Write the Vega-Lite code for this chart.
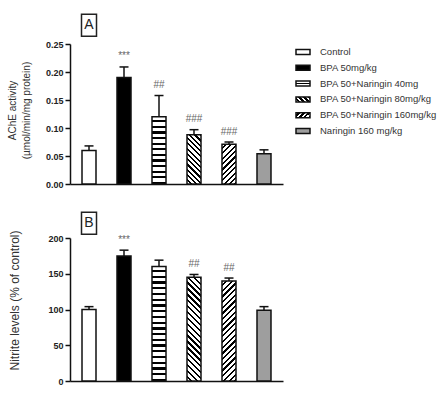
{
  "$schema": "https://vega.github.io/schema/vega-lite/v6.json",
  "padding": {"left": 7, "top": 11, "right": 2, "bottom": 4},
  "background": "white",
  "config": {
    "font": "Liberation Sans",
    "view": {"stroke": null},
    "axis": {
      "domainColor": "#111", "domainWidth": 1.5,
      "tickColor": "#111", "tickWidth": 1.5, "tickSize": 5,
      "grid": false, "labelOverlap": false,
      "labelFont": "Liberation Sans", "labelFontSize": 9, "labelFontWeight": "bold", "labelColor": "#222", "labelPadding": 2,
      "titleFont": "Liberation Sans", "titleFontWeight": "normal", "titleColor": "#333"
    },
    "axisY": {"tickCount": 6}
  },
  "datasets": {
    "ache": [
      {"group": "Control", "mean": 0.060, "upper": 0.068, "sig": ""},
      {"group": "BPA 50mg/kg", "mean": 0.190, "upper": 0.209, "sig": "***"},
      {"group": "BPA 50+Naringin 40mg", "mean": 0.120, "upper": 0.158, "sig": "##"},
      {"group": "BPA 50+Naringin 80mg/kg", "mean": 0.088, "upper": 0.097, "sig": "###"},
      {"group": "BPA 50+Naringin 160mg/kg", "mean": 0.071, "upper": 0.075, "sig": "###"},
      {"group": "Naringin 160 mg/kg", "mean": 0.054, "upper": 0.061, "sig": ""}
    ],
    "nitrite": [
      {"group": "Control", "mean": 100, "upper": 104, "sig": ""},
      {"group": "BPA 50mg/kg", "mean": 175, "upper": 183, "sig": "***"},
      {"group": "BPA 50+Naringin 40mg", "mean": 160, "upper": 169, "sig": ""},
      {"group": "BPA 50+Naringin 80mg/kg", "mean": 145, "upper": 149, "sig": "##"},
      {"group": "BPA 50+Naringin 160mg/kg", "mean": 140, "upper": 144, "sig": "##"},
      {"group": "Naringin 160 mg/kg", "mean": 99, "upper": 104, "sig": ""}
    ]
  },
  "columns": 2,
  "align": "each",
  "bounds": "flush",
  "spacing": {"row": 54, "column": 13},
  "concat": [
    {
      "width": 213,
      "height": 140,
      "data": {"name": "ache"},
      "layer": [
        {
          "mark": {"type": "bar", "stroke": "#111", "strokeWidth": 1.5},
          "encoding": {
            "x": {"field": "group", "type": "nominal", "sort": null,
                  "scale": {"domain": ["Control", "BPA 50mg/kg", "BPA 50+Naringin 40mg", "BPA 50+Naringin 80mg/kg", "BPA 50+Naringin 160mg/kg", "Naringin 160 mg/kg"], "paddingInner": 0.6, "paddingOuter": 0.343},
                  "axis": {"title": null, "labels": false, "ticks": false}},
            "y": {"field": "mean", "type": "quantitative", "scale": {"domain": [0, 0.25], "nice": false},
                  "axis": {"title": ["AChE activity", "(µmol/min/mg protein)"], "values": [0, 0.05, 0.1, 0.15, 0.2, 0.25], "format": ".2f", "titleFontSize": 10, "titleLineHeight": 14, "titlePadding": 14, "titleY": 66}},
            "fill": {
              "condition": [
                {"test": "datum.group == 'BPA 50mg/kg'", "value": "#000"},
                {"test": "datum.group == 'BPA 50+Naringin 40mg'", "value": {"gradient": "linear", "x1": 0, "y1": 0, "x2": 0, "y2": 1, "stops": [
                  {"offset": 0, "color": "#fff"}, {"offset": 0.05, "color": "#fff"}, {"offset": 0.05, "color": "#000"}, {"offset": 0.0833, "color": "#000"},
                  {"offset": 0.0833, "color": "#fff"}, {"offset": 0.1333, "color": "#fff"}, {"offset": 0.1333, "color": "#000"}, {"offset": 0.1667, "color": "#000"},
                  {"offset": 0.1667, "color": "#fff"}, {"offset": 0.2167, "color": "#fff"}, {"offset": 0.2167, "color": "#000"}, {"offset": 0.25, "color": "#000"},
                  {"offset": 0.25, "color": "#fff"}, {"offset": 0.3, "color": "#fff"}, {"offset": 0.3, "color": "#000"}, {"offset": 0.3333, "color": "#000"},
                  {"offset": 0.3333, "color": "#fff"}, {"offset": 0.3833, "color": "#fff"}, {"offset": 0.3833, "color": "#000"}, {"offset": 0.4167, "color": "#000"},
                  {"offset": 0.4167, "color": "#fff"}, {"offset": 0.4667, "color": "#fff"}, {"offset": 0.4667, "color": "#000"}, {"offset": 0.5, "color": "#000"},
                  {"offset": 0.5, "color": "#fff"}, {"offset": 0.55, "color": "#fff"}, {"offset": 0.55, "color": "#000"}, {"offset": 0.5833, "color": "#000"},
                  {"offset": 0.5833, "color": "#fff"}, {"offset": 0.6333, "color": "#fff"}, {"offset": 0.6333, "color": "#000"}, {"offset": 0.6667, "color": "#000"},
                  {"offset": 0.6667, "color": "#fff"}, {"offset": 0.7167, "color": "#fff"}, {"offset": 0.7167, "color": "#000"}, {"offset": 0.75, "color": "#000"},
                  {"offset": 0.75, "color": "#fff"}, {"offset": 0.8, "color": "#fff"}, {"offset": 0.8, "color": "#000"}, {"offset": 0.8333, "color": "#000"},
                  {"offset": 0.8333, "color": "#fff"}, {"offset": 0.8833, "color": "#fff"}, {"offset": 0.8833, "color": "#000"}, {"offset": 0.9167, "color": "#000"},
                  {"offset": 0.9167, "color": "#fff"}, {"offset": 0.9667, "color": "#fff"}, {"offset": 0.9667, "color": "#000"}, {"offset": 1, "color": "#000"}]}},
                {"test": "datum.group == 'BPA 50+Naringin 80mg/kg'", "value": {"gradient": "linear", "x1": 0, "y1": 1, "x2": 0.3376, "y2": -0.1882, "stops": [
                  {"offset": 0, "color": "#fff"}, {"offset": 0.05, "color": "#fff"}, {"offset": 0.05, "color": "#000"}, {"offset": 0.0833, "color": "#000"},
                  {"offset": 0.0833, "color": "#fff"}, {"offset": 0.1333, "color": "#fff"}, {"offset": 0.1333, "color": "#000"}, {"offset": 0.1667, "color": "#000"},
                  {"offset": 0.1667, "color": "#fff"}, {"offset": 0.2167, "color": "#fff"}, {"offset": 0.2167, "color": "#000"}, {"offset": 0.25, "color": "#000"},
                  {"offset": 0.25, "color": "#fff"}, {"offset": 0.3, "color": "#fff"}, {"offset": 0.3, "color": "#000"}, {"offset": 0.3333, "color": "#000"},
                  {"offset": 0.3333, "color": "#fff"}, {"offset": 0.3833, "color": "#fff"}, {"offset": 0.3833, "color": "#000"}, {"offset": 0.4167, "color": "#000"},
                  {"offset": 0.4167, "color": "#fff"}, {"offset": 0.4667, "color": "#fff"}, {"offset": 0.4667, "color": "#000"}, {"offset": 0.5, "color": "#000"},
                  {"offset": 0.5, "color": "#fff"}, {"offset": 0.55, "color": "#fff"}, {"offset": 0.55, "color": "#000"}, {"offset": 0.5833, "color": "#000"},
                  {"offset": 0.5833, "color": "#fff"}, {"offset": 0.6333, "color": "#fff"}, {"offset": 0.6333, "color": "#000"}, {"offset": 0.6667, "color": "#000"},
                  {"offset": 0.6667, "color": "#fff"}, {"offset": 0.7167, "color": "#fff"}, {"offset": 0.7167, "color": "#000"}, {"offset": 0.75, "color": "#000"},
                  {"offset": 0.75, "color": "#fff"}, {"offset": 0.8, "color": "#fff"}, {"offset": 0.8, "color": "#000"}, {"offset": 0.8333, "color": "#000"},
                  {"offset": 0.8333, "color": "#fff"}, {"offset": 0.8833, "color": "#fff"}, {"offset": 0.8833, "color": "#000"}, {"offset": 0.9167, "color": "#000"},
                  {"offset": 0.9167, "color": "#fff"}, {"offset": 0.9667, "color": "#fff"}, {"offset": 0.9667, "color": "#000"}, {"offset": 1, "color": "#000"}]}},
                {"test": "datum.group == 'BPA 50+Naringin 160mg/kg'", "value": {"gradient": "linear", "x1": 0, "y1": 0, "x2": 0.4236, "y2": 1.203, "stops": [
                  {"offset": 0, "color": "#fff"}, {"offset": 0.06, "color": "#fff"}, {"offset": 0.06, "color": "#000"}, {"offset": 0.1, "color": "#000"},
                  {"offset": 0.1, "color": "#fff"}, {"offset": 0.16, "color": "#fff"}, {"offset": 0.16, "color": "#000"}, {"offset": 0.2, "color": "#000"},
                  {"offset": 0.2, "color": "#fff"}, {"offset": 0.26, "color": "#fff"}, {"offset": 0.26, "color": "#000"}, {"offset": 0.3, "color": "#000"},
                  {"offset": 0.3, "color": "#fff"}, {"offset": 0.36, "color": "#fff"}, {"offset": 0.36, "color": "#000"}, {"offset": 0.4, "color": "#000"},
                  {"offset": 0.4, "color": "#fff"}, {"offset": 0.46, "color": "#fff"}, {"offset": 0.46, "color": "#000"}, {"offset": 0.5, "color": "#000"},
                  {"offset": 0.5, "color": "#fff"}, {"offset": 0.56, "color": "#fff"}, {"offset": 0.56, "color": "#000"}, {"offset": 0.6, "color": "#000"},
                  {"offset": 0.6, "color": "#fff"}, {"offset": 0.66, "color": "#fff"}, {"offset": 0.66, "color": "#000"}, {"offset": 0.7, "color": "#000"},
                  {"offset": 0.7, "color": "#fff"}, {"offset": 0.76, "color": "#fff"}, {"offset": 0.76, "color": "#000"}, {"offset": 0.8, "color": "#000"},
                  {"offset": 0.8, "color": "#fff"}, {"offset": 0.86, "color": "#fff"}, {"offset": 0.86, "color": "#000"}, {"offset": 0.9, "color": "#000"},
                  {"offset": 0.9, "color": "#fff"}, {"offset": 0.96, "color": "#fff"}, {"offset": 0.96, "color": "#000"}, {"offset": 1, "color": "#000"}]}},
                {"test": "datum.group == 'Naringin 160 mg/kg'", "value": "#9e9e9e"}
              ],
              "value": "#fff"
            }
          }
        },
        {
          "mark": {"type": "rule", "stroke": "#111", "strokeWidth": 1.5},
          "encoding": {
            "x": {"field": "group", "type": "nominal", "sort": null},
            "y": {"field": "mean", "type": "quantitative"},
            "y2": {"field": "upper"}
          }
        },
        {
          "mark": {"type": "tick", "color": "#111", "thickness": 1.5, "size": 9, "opacity": 1},
          "encoding": {
            "x": {"field": "group", "type": "nominal", "sort": null},
            "y": {"field": "upper", "type": "quantitative"}
          }
        },
        {
          "mark": {"type": "text", "baseline": "alphabetic", "dy": -7.5, "fontSize": 10, "color": "#666"},
          "encoding": {
            "x": {"field": "group", "type": "nominal", "sort": null},
            "y": {"field": "upper", "type": "quantitative"},
            "text": {"field": "sig"}
          }
        },
        {
          "data": {"values": [{"panel": "A"}]},
          "mark": {"type": "point", "shape": "M-0.682,-1H0.682V1H-0.682Z", "size": 484, "filled": false, "stroke": "#222", "strokeWidth": 1.5, "opacity": 1},
          "encoding": {
            "x": {"datum": "Control", "type": "nominal"},
            "y": {"datum": 0.2834, "type": "quantitative"}
          }
        },
        {
          "data": {"values": [{"panel": "A"}]},
          "mark": {"type": "text", "fontSize": 14, "color": "#222", "baseline": "middle"},
          "encoding": {
            "x": {"datum": "Control", "type": "nominal"},
            "y": {"datum": 0.2834, "type": "quantitative"},
            "text": {"field": "panel"}
          }
        }
      ]
    },
    {
      "width": 120,
      "height": 95,
      "data": {"name": "ache"},
      "layer": [
        {
          "mark": {"type": "point", "shape": "M0,-0.357H2V0.357H0Z", "size": 196, "filled": true, "stroke": "#111", "strokeWidth": 1.5, "opacity": 1},
          "encoding": {
            "x": {"datum": 0, "type": "quantitative", "scale": {"domain": [0, 1]}, "axis": null},
            "y": {"field": "group", "type": "nominal", "sort": null,
                  "scale": {"type": "band", "domain": ["Control", "BPA 50mg/kg", "BPA 50+Naringin 40mg", "BPA 50+Naringin 80mg/kg", "BPA 50+Naringin 160mg/kg", "Naringin 160 mg/kg"], "paddingInner": 0, "paddingOuter": 0},
                  "axis": null},
            "fill": {
              "condition": [
                {"test": "datum.group == 'BPA 50mg/kg'", "value": "#000"},
                {"test": "datum.group == 'BPA 50+Naringin 40mg'", "value": {"gradient": "linear", "x1": 0, "y1": 0, "x2": 0, "y2": 1, "stops": [
                  {"offset": 0, "color": "#fff"}, {"offset": 0.36, "color": "#fff"}, {"offset": 0.36, "color": "#000"}, {"offset": 0.64, "color": "#000"},
                  {"offset": 0.64, "color": "#fff"}, {"offset": 1, "color": "#fff"}]}},
                {"test": "datum.group == 'BPA 50+Naringin 80mg/kg'", "value": {"gradient": "linear", "x1": 0, "y1": 1, "x2": 1.2036, "y2": 0.5701, "stops": [
                  {"offset": 0, "color": "#fff"}, {"offset": 0.1125, "color": "#fff"}, {"offset": 0.1125, "color": "#000"}, {"offset": 0.25, "color": "#000"},
                  {"offset": 0.25, "color": "#fff"}, {"offset": 0.3625, "color": "#fff"}, {"offset": 0.3625, "color": "#000"}, {"offset": 0.5, "color": "#000"},
                  {"offset": 0.5, "color": "#fff"}, {"offset": 0.6125, "color": "#fff"}, {"offset": 0.6125, "color": "#000"}, {"offset": 0.75, "color": "#000"},
                  {"offset": 0.75, "color": "#fff"}, {"offset": 0.8625, "color": "#fff"}, {"offset": 0.8625, "color": "#000"}, {"offset": 1, "color": "#000"}]}},
                {"test": "datum.group == 'BPA 50+Naringin 160mg/kg'", "value": {"gradient": "linear", "x1": 0, "y1": 0, "x2": 1.2036, "y2": 0.4299, "stops": [
                  {"offset": 0, "color": "#fff"}, {"offset": 0.1125, "color": "#fff"}, {"offset": 0.1125, "color": "#000"}, {"offset": 0.25, "color": "#000"},
                  {"offset": 0.25, "color": "#fff"}, {"offset": 0.3625, "color": "#fff"}, {"offset": 0.3625, "color": "#000"}, {"offset": 0.5, "color": "#000"},
                  {"offset": 0.5, "color": "#fff"}, {"offset": 0.6125, "color": "#fff"}, {"offset": 0.6125, "color": "#000"}, {"offset": 0.75, "color": "#000"},
                  {"offset": 0.75, "color": "#fff"}, {"offset": 0.8625, "color": "#fff"}, {"offset": 0.8625, "color": "#000"}, {"offset": 1, "color": "#000"}]}},
                {"test": "datum.group == 'Naringin 160 mg/kg'", "value": "#9e9e9e"}
              ],
              "value": "#fff"
            }
          }
        },
        {
          "mark": {"type": "text", "align": "left", "baseline": "middle", "dx": 24, "fontSize": 9.5, "color": "#333"},
          "encoding": {
            "x": {"datum": 0, "type": "quantitative", "axis": null},
            "y": {"field": "group", "type": "nominal", "sort": null, "axis": null},
            "text": {"field": "group"}
          }
        }
      ]
    },
    {
      "width": 213,
      "height": 143,
      "data": {"name": "nitrite"},
      "layer": [
        {
          "mark": {"type": "bar", "stroke": "#111", "strokeWidth": 1.5},
          "encoding": {
            "x": {"field": "group", "type": "nominal", "sort": null,
                  "scale": {"domain": ["Control", "BPA 50mg/kg", "BPA 50+Naringin 40mg", "BPA 50+Naringin 80mg/kg", "BPA 50+Naringin 160mg/kg", "Naringin 160 mg/kg"], "paddingInner": 0.6, "paddingOuter": 0.343},
                  "axis": {"title": null, "labels": false, "ticks": false}},
            "y": {"field": "mean", "type": "quantitative", "scale": {"domain": [0, 200], "nice": false},
                  "axis": {"title": "Nitrite levels  (% of control)", "values": [0, 50, 100, 150, 200], "titleFontSize": 12, "titlePadding": 26, "titleY": 62}},
            "fill": {
              "condition": [
                {"test": "datum.group == 'BPA 50mg/kg'", "value": "#000"},
                {"test": "datum.group == 'BPA 50+Naringin 40mg'", "value": {"gradient": "linear", "x1": 0, "y1": 0, "x2": 0, "y2": 1, "stops": [
                  {"offset": 0, "color": "#fff"}, {"offset": 0.03, "color": "#fff"}, {"offset": 0.03, "color": "#000"}, {"offset": 0.05, "color": "#000"},
                  {"offset": 0.05, "color": "#fff"}, {"offset": 0.08, "color": "#fff"}, {"offset": 0.08, "color": "#000"}, {"offset": 0.1, "color": "#000"},
                  {"offset": 0.1, "color": "#fff"}, {"offset": 0.13, "color": "#fff"}, {"offset": 0.13, "color": "#000"}, {"offset": 0.15, "color": "#000"},
                  {"offset": 0.15, "color": "#fff"}, {"offset": 0.18, "color": "#fff"}, {"offset": 0.18, "color": "#000"}, {"offset": 0.2, "color": "#000"},
                  {"offset": 0.2, "color": "#fff"}, {"offset": 0.23, "color": "#fff"}, {"offset": 0.23, "color": "#000"}, {"offset": 0.25, "color": "#000"},
                  {"offset": 0.25, "color": "#fff"}, {"offset": 0.28, "color": "#fff"}, {"offset": 0.28, "color": "#000"}, {"offset": 0.3, "color": "#000"},
                  {"offset": 0.3, "color": "#fff"}, {"offset": 0.33, "color": "#fff"}, {"offset": 0.33, "color": "#000"}, {"offset": 0.35, "color": "#000"},
                  {"offset": 0.35, "color": "#fff"}, {"offset": 0.38, "color": "#fff"}, {"offset": 0.38, "color": "#000"}, {"offset": 0.4, "color": "#000"},
                  {"offset": 0.4, "color": "#fff"}, {"offset": 0.43, "color": "#fff"}, {"offset": 0.43, "color": "#000"}, {"offset": 0.45, "color": "#000"},
                  {"offset": 0.45, "color": "#fff"}, {"offset": 0.48, "color": "#fff"}, {"offset": 0.48, "color": "#000"}, {"offset": 0.5, "color": "#000"},
                  {"offset": 0.5, "color": "#fff"}, {"offset": 0.53, "color": "#fff"}, {"offset": 0.53, "color": "#000"}, {"offset": 0.55, "color": "#000"},
                  {"offset": 0.55, "color": "#fff"}, {"offset": 0.58, "color": "#fff"}, {"offset": 0.58, "color": "#000"}, {"offset": 0.6, "color": "#000"},
                  {"offset": 0.6, "color": "#fff"}, {"offset": 0.63, "color": "#fff"}, {"offset": 0.63, "color": "#000"}, {"offset": 0.65, "color": "#000"},
                  {"offset": 0.65, "color": "#fff"}, {"offset": 0.68, "color": "#fff"}, {"offset": 0.68, "color": "#000"}, {"offset": 0.7, "color": "#000"},
                  {"offset": 0.7, "color": "#fff"}, {"offset": 0.73, "color": "#fff"}, {"offset": 0.73, "color": "#000"}, {"offset": 0.75, "color": "#000"},
                  {"offset": 0.75, "color": "#fff"}, {"offset": 0.78, "color": "#fff"}, {"offset": 0.78, "color": "#000"}, {"offset": 0.8, "color": "#000"},
                  {"offset": 0.8, "color": "#fff"}, {"offset": 0.83, "color": "#fff"}, {"offset": 0.83, "color": "#000"}, {"offset": 0.85, "color": "#000"},
                  {"offset": 0.85, "color": "#fff"}, {"offset": 0.88, "color": "#fff"}, {"offset": 0.88, "color": "#000"}, {"offset": 0.9, "color": "#000"},
                  {"offset": 0.9, "color": "#fff"}, {"offset": 0.93, "color": "#fff"}, {"offset": 0.93, "color": "#000"}, {"offset": 0.95, "color": "#000"},
                  {"offset": 0.95, "color": "#fff"}, {"offset": 0.98, "color": "#fff"}, {"offset": 0.98, "color": "#000"}, {"offset": 1, "color": "#000"}]}},
                {"test": "datum.group == 'BPA 50+Naringin 80mg/kg'", "value": {"gradient": "linear", "x1": 0, "y1": 1, "x2": 0.1505, "y2": -0.1147, "stops": [
                  {"offset": 0, "color": "#fff"}, {"offset": 0.03, "color": "#fff"}, {"offset": 0.03, "color": "#000"}, {"offset": 0.05, "color": "#000"},
                  {"offset": 0.05, "color": "#fff"}, {"offset": 0.08, "color": "#fff"}, {"offset": 0.08, "color": "#000"}, {"offset": 0.1, "color": "#000"},
                  {"offset": 0.1, "color": "#fff"}, {"offset": 0.13, "color": "#fff"}, {"offset": 0.13, "color": "#000"}, {"offset": 0.15, "color": "#000"},
                  {"offset": 0.15, "color": "#fff"}, {"offset": 0.18, "color": "#fff"}, {"offset": 0.18, "color": "#000"}, {"offset": 0.2, "color": "#000"},
                  {"offset": 0.2, "color": "#fff"}, {"offset": 0.23, "color": "#fff"}, {"offset": 0.23, "color": "#000"}, {"offset": 0.25, "color": "#000"},
                  {"offset": 0.25, "color": "#fff"}, {"offset": 0.28, "color": "#fff"}, {"offset": 0.28, "color": "#000"}, {"offset": 0.3, "color": "#000"},
                  {"offset": 0.3, "color": "#fff"}, {"offset": 0.33, "color": "#fff"}, {"offset": 0.33, "color": "#000"}, {"offset": 0.35, "color": "#000"},
                  {"offset": 0.35, "color": "#fff"}, {"offset": 0.38, "color": "#fff"}, {"offset": 0.38, "color": "#000"}, {"offset": 0.4, "color": "#000"},
                  {"offset": 0.4, "color": "#fff"}, {"offset": 0.43, "color": "#fff"}, {"offset": 0.43, "color": "#000"}, {"offset": 0.45, "color": "#000"},
                  {"offset": 0.45, "color": "#fff"}, {"offset": 0.48, "color": "#fff"}, {"offset": 0.48, "color": "#000"}, {"offset": 0.5, "color": "#000"},
                  {"offset": 0.5, "color": "#fff"}, {"offset": 0.53, "color": "#fff"}, {"offset": 0.53, "color": "#000"}, {"offset": 0.55, "color": "#000"},
                  {"offset": 0.55, "color": "#fff"}, {"offset": 0.58, "color": "#fff"}, {"offset": 0.58, "color": "#000"}, {"offset": 0.6, "color": "#000"},
                  {"offset": 0.6, "color": "#fff"}, {"offset": 0.63, "color": "#fff"}, {"offset": 0.63, "color": "#000"}, {"offset": 0.65, "color": "#000"},
                  {"offset": 0.65, "color": "#fff"}, {"offset": 0.68, "color": "#fff"}, {"offset": 0.68, "color": "#000"}, {"offset": 0.7, "color": "#000"},
                  {"offset": 0.7, "color": "#fff"}, {"offset": 0.73, "color": "#fff"}, {"offset": 0.73, "color": "#000"}, {"offset": 0.75, "color": "#000"},
                  {"offset": 0.75, "color": "#fff"}, {"offset": 0.78, "color": "#fff"}, {"offset": 0.78, "color": "#000"}, {"offset": 0.8, "color": "#000"},
                  {"offset": 0.8, "color": "#fff"}, {"offset": 0.83, "color": "#fff"}, {"offset": 0.83, "color": "#000"}, {"offset": 0.85, "color": "#000"},
                  {"offset": 0.85, "color": "#fff"}, {"offset": 0.88, "color": "#fff"}, {"offset": 0.88, "color": "#000"}, {"offset": 0.9, "color": "#000"},
                  {"offset": 0.9, "color": "#fff"}, {"offset": 0.93, "color": "#fff"}, {"offset": 0.93, "color": "#000"}, {"offset": 0.95, "color": "#000"},
                  {"offset": 0.95, "color": "#fff"}, {"offset": 0.98, "color": "#fff"}, {"offset": 0.98, "color": "#000"}, {"offset": 1, "color": "#000"}]}},
                {"test": "datum.group == 'BPA 50+Naringin 160mg/kg'", "value": {"gradient": "linear", "x1": 0, "y1": 0, "x2": 0.1564, "y2": 1.118, "stops": [
                  {"offset": 0, "color": "#fff"}, {"offset": 0.03, "color": "#fff"}, {"offset": 0.03, "color": "#000"}, {"offset": 0.05, "color": "#000"},
                  {"offset": 0.05, "color": "#fff"}, {"offset": 0.08, "color": "#fff"}, {"offset": 0.08, "color": "#000"}, {"offset": 0.1, "color": "#000"},
                  {"offset": 0.1, "color": "#fff"}, {"offset": 0.13, "color": "#fff"}, {"offset": 0.13, "color": "#000"}, {"offset": 0.15, "color": "#000"},
                  {"offset": 0.15, "color": "#fff"}, {"offset": 0.18, "color": "#fff"}, {"offset": 0.18, "color": "#000"}, {"offset": 0.2, "color": "#000"},
                  {"offset": 0.2, "color": "#fff"}, {"offset": 0.23, "color": "#fff"}, {"offset": 0.23, "color": "#000"}, {"offset": 0.25, "color": "#000"},
                  {"offset": 0.25, "color": "#fff"}, {"offset": 0.28, "color": "#fff"}, {"offset": 0.28, "color": "#000"}, {"offset": 0.3, "color": "#000"},
                  {"offset": 0.3, "color": "#fff"}, {"offset": 0.33, "color": "#fff"}, {"offset": 0.33, "color": "#000"}, {"offset": 0.35, "color": "#000"},
                  {"offset": 0.35, "color": "#fff"}, {"offset": 0.38, "color": "#fff"}, {"offset": 0.38, "color": "#000"}, {"offset": 0.4, "color": "#000"},
                  {"offset": 0.4, "color": "#fff"}, {"offset": 0.43, "color": "#fff"}, {"offset": 0.43, "color": "#000"}, {"offset": 0.45, "color": "#000"},
                  {"offset": 0.45, "color": "#fff"}, {"offset": 0.48, "color": "#fff"}, {"offset": 0.48, "color": "#000"}, {"offset": 0.5, "color": "#000"},
                  {"offset": 0.5, "color": "#fff"}, {"offset": 0.53, "color": "#fff"}, {"offset": 0.53, "color": "#000"}, {"offset": 0.55, "color": "#000"},
                  {"offset": 0.55, "color": "#fff"}, {"offset": 0.58, "color": "#fff"}, {"offset": 0.58, "color": "#000"}, {"offset": 0.6, "color": "#000"},
                  {"offset": 0.6, "color": "#fff"}, {"offset": 0.63, "color": "#fff"}, {"offset": 0.63, "color": "#000"}, {"offset": 0.65, "color": "#000"},
                  {"offset": 0.65, "color": "#fff"}, {"offset": 0.68, "color": "#fff"}, {"offset": 0.68, "color": "#000"}, {"offset": 0.7, "color": "#000"},
                  {"offset": 0.7, "color": "#fff"}, {"offset": 0.73, "color": "#fff"}, {"offset": 0.73, "color": "#000"}, {"offset": 0.75, "color": "#000"},
                  {"offset": 0.75, "color": "#fff"}, {"offset": 0.78, "color": "#fff"}, {"offset": 0.78, "color": "#000"}, {"offset": 0.8, "color": "#000"},
                  {"offset": 0.8, "color": "#fff"}, {"offset": 0.83, "color": "#fff"}, {"offset": 0.83, "color": "#000"}, {"offset": 0.85, "color": "#000"},
                  {"offset": 0.85, "color": "#fff"}, {"offset": 0.88, "color": "#fff"}, {"offset": 0.88, "color": "#000"}, {"offset": 0.9, "color": "#000"},
                  {"offset": 0.9, "color": "#fff"}, {"offset": 0.93, "color": "#fff"}, {"offset": 0.93, "color": "#000"}, {"offset": 0.95, "color": "#000"},
                  {"offset": 0.95, "color": "#fff"}, {"offset": 0.98, "color": "#fff"}, {"offset": 0.98, "color": "#000"}, {"offset": 1, "color": "#000"}]}},
                {"test": "datum.group == 'Naringin 160 mg/kg'", "value": "#9e9e9e"}
              ],
              "value": "#fff"
            }
          }
        },
        {
          "mark": {"type": "rule", "stroke": "#111", "strokeWidth": 1.5},
          "encoding": {
            "x": {"field": "group", "type": "nominal", "sort": null},
            "y": {"field": "mean", "type": "quantitative"},
            "y2": {"field": "upper"}
          }
        },
        {
          "mark": {"type": "tick", "color": "#111", "thickness": 1.5, "size": 9, "opacity": 1},
          "encoding": {
            "x": {"field": "group", "type": "nominal", "sort": null},
            "y": {"field": "upper", "type": "quantitative"}
          }
        },
        {
          "mark": {"type": "text", "baseline": "alphabetic", "dy": -7.5, "fontSize": 10, "color": "#666"},
          "encoding": {
            "x": {"field": "group", "type": "nominal", "sort": null},
            "y": {"field": "upper", "type": "quantitative"},
            "text": {"field": "sig"}
          }
        },
        {
          "data": {"values": [{"panel": "B"}]},
          "mark": {"type": "point", "shape": "M-0.682,-1H0.682V1H-0.682Z", "size": 484, "filled": false, "stroke": "#222", "strokeWidth": 1.5, "opacity": 1},
          "encoding": {
            "x": {"datum": "Control", "type": "nominal"},
            "y": {"datum": 220.8, "type": "quantitative"}
          }
        },
        {
          "data": {"values": [{"panel": "B"}]},
          "mark": {"type": "text", "fontSize": 14, "color": "#222", "baseline": "middle"},
          "encoding": {
            "x": {"datum": "Control", "type": "nominal"},
            "y": {"datum": 220.8, "type": "quantitative"},
            "text": {"field": "panel"}
          }
        }
      ]
    }
  ]
}
